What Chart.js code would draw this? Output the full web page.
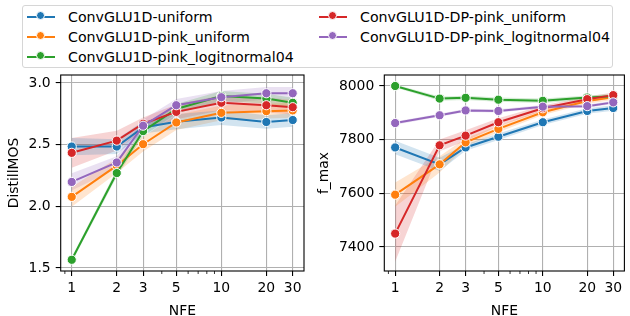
<!DOCTYPE html>
<html>
<head>
<meta charset="utf-8">
<script src="https://cdn.jsdelivr.net/npm/chart.js@4"></script>
<style>
  html, body { margin: 0; padding: 0; background: #fff; width: 630px; height: 316px; overflow: hidden; }
  .plot { position: absolute; top: 0; }
  #legend {
    position: absolute; left: 22px; top: 5px; width: 585px; height: 61px;
    border: 1px solid #d6d6d6; border-radius: 3px;
    display: grid; grid-auto-flow: column; grid-template-rows: repeat(3, 20px);
    grid-template-columns: 292px auto; padding: 0 0 0 4px; align-content: center;
    font: 14.2px 'DejaVu Sans'; color: #000;
  }
  .item { display: flex; align-items: center; white-space: nowrap; }
  .handle { position: relative; width: 28px; height: 2px; margin-right: 13px; }
  .handle i { position: absolute; left: 9px; top: -4.5px; width: 9px; height: 9px; border-radius: 50%; box-sizing: border-box; border: 1px solid #fff; }
</style>
</head>
<body>
<div id="legend"></div>
<canvas id="mosChart" class="plot" width="315" height="330" style="left:0"></canvas>
<canvas id="fmaxChart" class="plot" width="315" height="330" style="left:315px"></canvas>
<script>
const nfe = [1, 2, 3, 5, 10, 20, 30];
const seriesNames = [
  'ConvGLU1D-uniform',
  'ConvGLU1D-pink_uniform',
  'ConvGLU1D-pink_logitnormal04',
  'ConvGLU1D-DP-pink_uniform',
  'ConvGLU1D-DP-pink_logitnormal04',
];
const colors = ['#1f77b4', '#ff7f0e', '#2ca02c', '#d62728', '#9467bd'];
const bandColors = ['rgba(31,119,180,0.2)', 'rgba(255,127,14,0.2)', 'rgba(44,160,44,0.2)', 'rgba(214,39,40,0.2)', 'rgba(148,103,189,0.2)'];

// DistillMOS means and CI half-widths
const mosUniform = [2.485, 2.485, 2.64, 2.686, 2.72, 2.684, 2.70];
const mosPinkUniform = [2.077, 2.33, 2.504, 2.68, 2.758, 2.772, 2.778];
const mosPinkLogit = [1.567, 2.27, 2.61, 2.79, 2.895, 2.874, 2.84];
const mosDpUniform = [2.434, 2.533, 2.67, 2.766, 2.84, 2.82, 2.804];
const mosDpLogit = [2.198, 2.356, 2.654, 2.82, 2.885, 2.917, 2.917];
const mosCiUniform = [0.07, 0.06, 0.05, 0.06, 0.06, 0.055, 0.055];
const mosCiPinkUniform = [0.08, 0.06, 0.06, 0.06, 0.06, 0.06, 0.06];
const mosCiPinkLogit = [0.02, 0.03, 0.04, 0.04, 0.04, 0.04, 0.04];
const mosCiDpUniform = [0.12, 0.08, 0.05, 0.06, 0.06, 0.06, 0.06];
const mosCiDpLogit = [0.07, 0.05, 0.05, 0.05, 0.05, 0.05, 0.05];

// f_max means and CI half-widths
const fmaxUniform = [7771, 7708, 7771, 7811, 7865, 7907, 7918];
const fmaxPinkUniform = [7595, 7708, 7790, 7840, 7902, 7944, 7958];
const fmaxPinkLogit = [8000, 7953, 7956, 7949, 7945, 7957, 7962];
const fmaxDpUniform = [7450, 7779, 7815, 7865, 7917, 7951, 7966];
const fmaxDpLogit = [7862, 7891, 7909, 7907, 7923, 7925, 7939];
const fmaxCiUniform = [25, 25, 12, 12, 10, 10, 10];
const fmaxCiPinkUniform = [45, 30, 15, 12, 10, 10, 10];
const fmaxCiPinkLogit = [6, 8, 8, 8, 8, 8, 8];
const fmaxCiDpUniform = [105, 22, 20, 15, 10, 10, 10];
const fmaxCiDpLogit = [6, 6, 6, 6, 6, 6, 6];

const mosTicks = [1.5, 2.0, 2.5, 3.0];
const fmaxTicks = [7400, 7600, 7800, 8000];

Chart.defaults.font.family = 'DejaVu Sans';
Chart.defaults.font.size = 13.9;
Chart.defaults.color = '#000';

// legend (matplotlib style, two columns)
const legend = document.getElementById('legend');
seriesNames.forEach((name, i) => {
  const item = document.createElement('div');
  item.className = 'item';
  item.innerHTML = '<span class="handle" style="background:' + colors[i] + '"><i style="background:' + colors[i] + '"></i></span>' + name;
  legend.appendChild(item);
});

function buildDatasets(means, cis) {
  const sets = [];
  means.forEach((vals, i) => {
    sets.push({
      data: nfe.map((x, j) => ({ x, y: vals[j] + cis[i][j] })),
      borderWidth: 0, pointRadius: 0, fill: false, order: 20,
    });
    sets.push({
      data: nfe.map((x, j) => ({ x, y: vals[j] - cis[i][j] })),
      borderWidth: 0, pointRadius: 0, fill: '-1', backgroundColor: bandColors[i], order: 20,
    });
    sets.push({
      label: seriesNames[i],
      data: nfe.map((x, j) => ({ x, y: vals[j] })),
      borderColor: colors[i],
      borderWidth: 2,
      pointRadius: 4.6,
      pointBackgroundColor: colors[i],
      pointBorderColor: '#fff',
      pointBorderWidth: 1,
      fill: false,
      order: 10 - i,
    });
  });
  return sets;
}

const framePlugin = {
  id: 'frame',
  afterDraw(chart) {
    const { ctx, chartArea: a } = chart;
    const x = chart.scales.x;
    ctx.save();
    ctx.strokeStyle = '#000';
    ctx.lineWidth = 0.8;
    [0.9, 4, 6, 7, 8, 9].forEach(v => {
      const px = x.getPixelForValue(v);
      ctx.beginPath();
      ctx.moveTo(px, a.bottom);
      ctx.lineTo(px, a.bottom + 3);
      ctx.stroke();
    });
    ctx.lineWidth = 1.1;
    ctx.strokeRect(a.left, a.top, a.right - a.left, a.bottom - a.top);
    ctx.restore();
  },
};

function makeChart(id, datasets, yMin, yMax, yTicks, yFmt, yTitle, yWidth, rightPad, titlePad) {
  return new Chart(document.getElementById(id), {
    type: 'line',
    data: { datasets },
    options: {
      responsive: false,
      animation: false,
      layout: { padding: { left: 0, right: rightPad, top: 75, bottom: 10 } },
      plugins: { legend: { display: false }, tooltip: { enabled: false } },
      scales: {
        x: {
          type: 'logarithmic',
          min: 0.844,
          max: 35.7,
          afterBuildTicks: s => { s.ticks = nfe.map(v => ({ value: v })); },
          afterFit: s => { s.height = 49; },
          border: { display: false },
          grid: { color: '#b0b0b0', lineWidth: 1.1, tickColor: '#000', tickWidth: 1.1, tickLength: 5 },
          ticks: { autoSkip: false, maxRotation: 0, padding: 4, callback: v => String(v) },
          title: { display: true, text: 'NFE', padding: { top: 0, bottom: 0 } },
        },
        y: {
          type: 'linear',
          min: yMin,
          max: yMax,
          afterBuildTicks: s => { s.ticks = yTicks.map(v => ({ value: v })); },
          afterFit: s => { s.width = yWidth; },
          border: { display: false },
          grid: { color: '#b0b0b0', lineWidth: 1.1, tickColor: '#000', tickWidth: 1.1, tickLength: 5 },
          ticks: { padding: 5, callback: yFmt },
          title: { display: true, text: yTitle, padding: { top: titlePad, bottom: 0 } },
        },
      },
    },
    plugins: [framePlugin],
  });
}

makeChart('mosChart',
  buildDatasets([mosUniform, mosPinkUniform, mosPinkLogit, mosDpUniform, mosDpLogit],
                [mosCiUniform, mosCiPinkUniform, mosCiPinkLogit, mosCiDpUniform, mosCiDpLogit]),
  1.476, 3.065, mosTicks, v => v.toFixed(1), 'DistillMOS', 60.7, 11, 6.5);

makeChart('fmaxChart',
  buildDatasets([fmaxUniform, fmaxPinkUniform, fmaxPinkLogit, fmaxDpUniform, fmaxDpLogit],
                [fmaxCiUniform, fmaxCiPinkUniform, fmaxCiPinkLogit, fmaxCiDpUniform, fmaxCiDpLogit]),
  7310.6, 8041, fmaxTicks, v => String(v), 'f_max', 69.3, 3.3, 1.5);
</script>
</body>
</html>
